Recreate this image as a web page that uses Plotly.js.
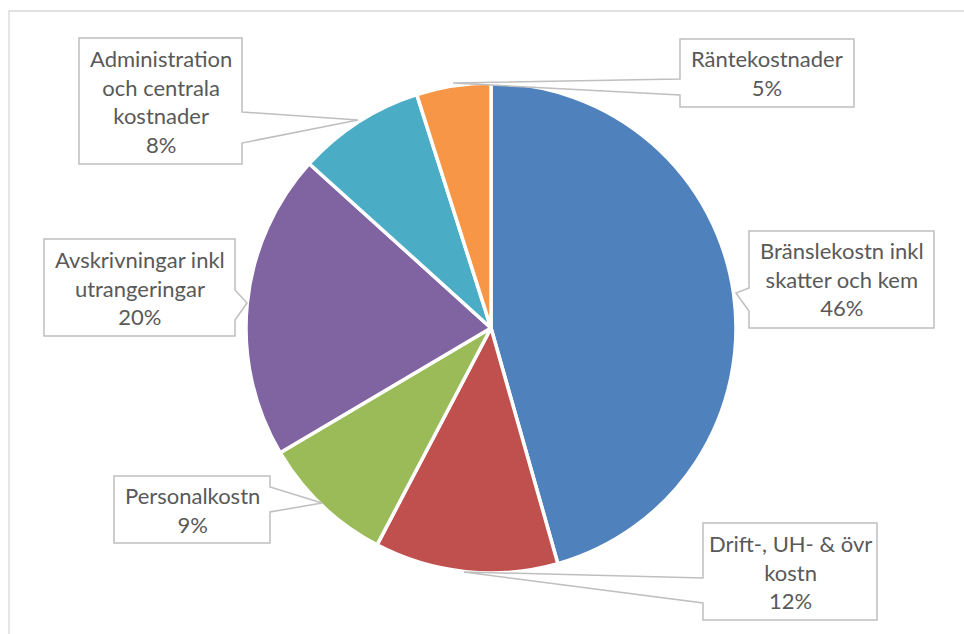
<!DOCTYPE html>
<html>
<head>
<meta charset="utf-8">
<script src="https://cdn.plot.ly/plotly-3.0.1.min.js"></script>
<style>html,body{margin:0;padding:0;background:#fff;}#chart{width:964px;height:634px;}</style>
</head>
<body>
<div id="chart"></div>
<script>
// ---- data ----
const categories = [
  "Bränslekostn inkl<br>skatter och kem",
  "Drift-, UH- & övr<br>kostn",
  "Personalkostn",
  "Avskrivningar inkl<br>utrangeringar",
  "Administration<br>och centrala<br>kostnader",
  "Räntekostnader"
];
const values = [45.6, 12.1, 8.8, 20.2, 8.4, 4.9];
const colors = ["#4F81BD", "#C0504D", "#9BBB59", "#8064A2", "#4BACC6", "#F79646"];

// ---- callout layout (pixel positions of label boxes and wedge tips) ----
const W = 964, H = 634;
const callouts = [
  {box: [749, 231, 934, 328], side: "left",  base: [288, 311], tip: [736, 293]},
  {box: [703, 523, 877, 620], side: "left",  base: [578, 603], tip: [464, 572]},
  {box: [114, 476, 270, 543], side: "right", base: [487, 512], tip: [322, 503]},
  {box: [44, 239, 235, 336],  side: "right", base: [290, 320], tip: [247, 303]},
  {box: [79, 38, 242, 164],   side: "right", base: [112, 143], tip: [358, 120]},
  {box: [680, 39, 854, 107],  side: "left",  base: [79, 95],   tip: [453, 83]}
];

const px = x => x / W;
const py = y => 1 - y / H;
const P = (x, y) => px(x).toFixed(5) + "," + py(y).toFixed(5);

const total = values.reduce((a, b) => a + b, 0);

const shapes = [
  {type: "rect", xref: "paper", yref: "paper", x0: px(9), y0: py(11), x1: px(980), y1: py(650),
   line: {color: "#D9D9D9", width: 1.3}, fillcolor: "rgba(0,0,0,0)", layer: "below"}
];
const annotations = [];

callouts.forEach((c, i) => {
  const [x0, y0, x1, y1] = c.box;
  let d;
  if (c.side === "right") {
    d = "M" + P(x0, y0) + " L" + P(x1, y0) + " L" + P(x1, c.base[0]) + " L" + P(c.tip[0], c.tip[1]) +
        " L" + P(x1, c.base[1]) + " L" + P(x1, y1) + " L" + P(x0, y1) + " Z";
  } else {
    d = "M" + P(x0, y0) + " L" + P(x1, y0) + " L" + P(x1, y1) + " L" + P(x0, y1) + " L" + P(x0, c.base[1]) +
        " L" + P(c.tip[0], c.tip[1]) + " L" + P(x0, c.base[0]) + " Z";
  }
  shapes.push({type: "path", xref: "paper", yref: "paper", path: d,
    fillcolor: "#FFFFFF", line: {color: "#BFBFBF", width: 1.5}, layer: "above"});
  const pct = Math.round(values[i] / total * 100) + "%";
  annotations.push({
    xref: "paper", yref: "paper", x: px((x0 + x1) / 2), y: py((y0 + y1) / 2),
    xanchor: "center", yanchor: "middle", showarrow: false,
    text: categories[i] + "<br>" + pct,
    align: "center",
    font: {family: "Lato, 'Noto Sans', sans-serif", size: 22, color: "#595959"}
  });
});

const cx = 491, cy = 328, r = 245;
const trace = {
  type: "pie",
  labels: categories,
  values: values,
  sort: false,
  direction: "clockwise",
  rotation: 0,
  textinfo: "none",
  hoverinfo: "label+percent",
  showlegend: false,
  marker: {colors: colors, line: {color: "#FFFFFF", width: 3.5}},
  domain: {x: [px(cx - r), px(cx + r)], y: [py(cy + r), py(cy - r)]}
};

const layout = {
  width: W, height: H,
  margin: {l: 0, r: 0, t: 0, b: 0},
  paper_bgcolor: "#FFFFFF",
  showlegend: false,
  shapes: shapes,
  annotations: annotations
};

Plotly.newPlot("chart", [trace], layout, {displayModeBar: false, staticPlot: true});
</script>
</body>
</html>
